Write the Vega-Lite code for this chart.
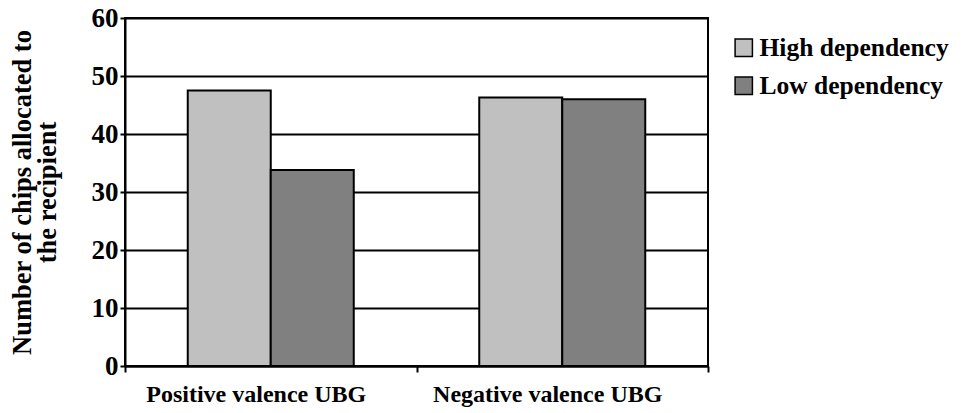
{
  "$schema": "https://vega.github.io/schema/vega-lite/v6.json",
  "width": 583,
  "height": 348,
  "autosize": {"type": "none"},
  "padding": {"left": 125, "top": 18, "right": 257, "bottom": 47},
  "background": "white",
  "config": {
    "view": {"stroke": "black", "strokeWidth": 2},
    "font": "Liberation Serif"
  },
  "data": {
    "values": [
      {"valence": "Positive valence UBG", "dependency": "High dependency", "chips": 47.5},
      {"valence": "Positive valence UBG", "dependency": "Low dependency", "chips": 33.8},
      {"valence": "Negative valence UBG", "dependency": "High dependency", "chips": 46.3},
      {"valence": "Negative valence UBG", "dependency": "Low dependency", "chips": 46.0}
    ]
  },
  "mark": {"type": "bar", "stroke": "black", "strokeWidth": 2},
  "encoding": {
    "x": {
      "field": "valence",
      "type": "nominal",
      "sort": null,
      "scale": {"paddingInner": 0, "paddingOuter": 0},
      "axis": {
        "title": null,
        "labelAngle": 0,
        "labelFont": "Liberation Serif",
        "labelFontWeight": "bold",
        "labelFontSize": 24,
        "labelColor": "black",
        "labelLimit": 400,
        "labelOffset": -15,
        "domainColor": "black",
        "domainWidth": 2,
        "tickColor": "black",
        "tickWidth": 2,
        "tickSize": 6,
        "tickBand": "extent",
        "labelPadding": 10,
        "grid": false
      }
    },
    "xOffset": {
      "field": "dependency",
      "type": "nominal",
      "scale": {"paddingInner": 0, "paddingOuter": 0.756}
    },
    "y": {
      "field": "chips",
      "type": "quantitative",
      "scale": {"domain": [0, 60], "nice": false},
      "axis": {
        "values": [0, 10, 20, 30, 40, 50, 60],
        "title": ["Number of chips allocated to", "the recipient"],
        "titleFont": "Liberation Serif",
        "titleFontWeight": "bold",
        "titleFontSize": 26.5,
        "titleColor": "black",
        "titleAngle": -90,
        "titleBaseline": "alphabetic",
        "titleAlign": "center",
        "titleAnchor": "middle",
        "titleX": -95,
        "titleY": 174,
        "titleLineHeight": 25,
        "labelFont": "Liberation Serif",
        "labelFontWeight": "bold",
        "labelFontSize": 27,
        "labelColor": "black",
        "labelPadding": 2,
        "domainColor": "black",
        "domainWidth": 2,
        "tickColor": "black",
        "tickWidth": 2,
        "tickSize": 5,
        "grid": true,
        "gridColor": "black",
        "gridWidth": 2,
        "gridOpacity": 1
      }
    },
    "fill": {
      "field": "dependency",
      "type": "nominal",
      "scale": {"domain": ["High dependency", "Low dependency"], "range": ["#C0C0C0", "#808080"]},
      "legend": {
        "title": null,
        "orient": "none",
        "legendX": 606,
        "legendY": 17,
        "padding": 0,
        "symbolType": "square",
        "symbolSize": 300,
        "symbolStrokeColor": "black",
        "symbolStrokeWidth": 1.5,
        "symbolOpacity": 1,
        "labelFont": "Liberation Serif",
        "labelFontWeight": "bold",
        "labelFontSize": 25.5,
        "labelColor": "black",
        "labelOffset": 3,
        "rowPadding": 11,
        "labelLimit": 400
      }
    }
  }
}
